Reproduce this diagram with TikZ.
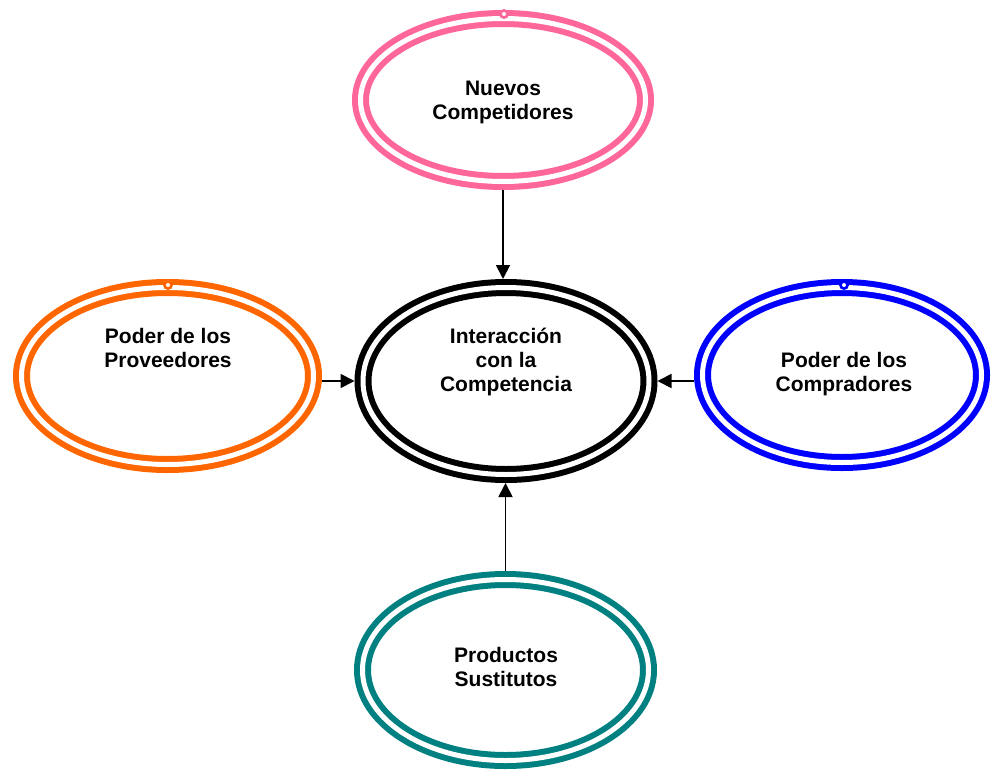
\documentclass[tikz,border=0pt]{standalone}
\usepackage{fontspec}
\setmainfont{Liberation Sans}
\usetikzlibrary{shapes.geometric,arrows.meta}
\definecolor{cpink}{RGB}{255,102,153}
\definecolor{corange}{RGB}{255,102,0}
\definecolor{cblue}{RGB}{0,0,255}
\definecolor{cteal}{RGB}{0,128,128}
\tikzset{
  force/.style={ellipse, draw=#1, line width=6pt, double=white, double distance=5pt,
    inner sep=0pt, outer sep=0pt},
  lbl/.style={font=\bfseries\fontsize{21}{24}\selectfont, align=center, inner sep=0pt},
  link/.style={line width=1.8pt, -{Triangle[length=14pt,width=14pt]},
    shorten <=8.5pt, shorten >=8.5pt},
  pin/.style={circle, fill=#1, minimum size=10pt, inner sep=0pt},
  hole/.style={circle, fill=white, minimum size=4pt, inner sep=0pt}
}
\begin{document}
\begin{tikzpicture}[x=1pt,y=-1pt]
\useasboundingbox (0,0) rectangle (992,773);
% five forces
\node[force=cpink, minimum width=285pt, minimum height=163pt] (nuevos) at (503,100) {};
\node[force=black, minimum width=286pt, minimum height=187pt] (centro) at (506,381) {};
\node[force=corange, minimum width=292pt, minimum height=177pt] (prov) at (167.5,376) {};
\node[force=cblue, minimum width=279pt, minimum height=175pt] (comp) at (842,375) {};
\node[force=cteal, minimum width=286pt, minimum height=181pt] (sust) at (505.5,670) {};
% labels
\node[lbl] (tnuevos) at (503,102) {Nuevos\\Competidores};
\node[lbl] (tcentro) at (506,362) {Interacción\\con la\\Competencia};
\node[lbl] (tprov) at (168,348) {Poder de los\\Proveedores};
\node[lbl] (tcomp) at (844,374) {Poder de los\\Compradores};
\node[lbl] (tsust) at (506,667) {Productos\\Sustitutos};
% connection points
\node[pin=cpink] (p1) at (504,14) {};
\node[hole] at (p1) {};
\node[pin=corange] (p2) at (168,285) {};
\node[hole] at (p2) {};
\node[pin=cblue] (p3) at (844,285) {};
\node[hole] at (p3) {};
% arrows
\draw[link] (nuevos.south) -- (nuevos.south |- centro.north);
\draw[link] (prov.east |- centro.west) -- (centro.west);
\draw[link] (comp.west |- centro.east) -- (centro.east);
\draw[link] (sust.north) -- (sust.north |- centro.south);
\end{tikzpicture}
\end{document}
